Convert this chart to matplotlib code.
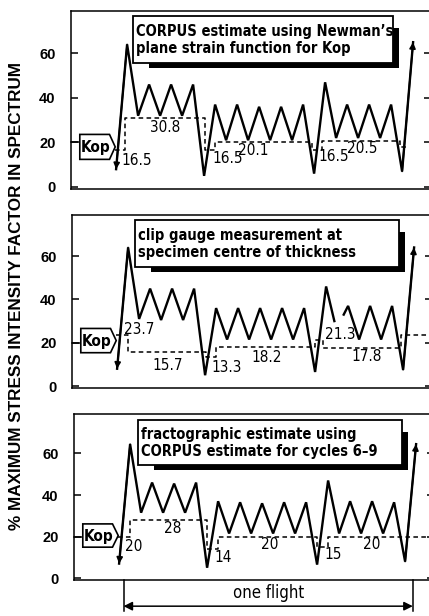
import matplotlib
matplotlib.use('Agg')
import matplotlib.pyplot as plt
import numpy as np
from matplotlib.patches import Polygon, Rectangle
from matplotlib import font_manager

# ---------------------------------------------------------------------------
# Data (x = half-cycle index within the flight, y = % of max SIF)
# ---------------------------------------------------------------------------
IDX = list(range(28))

P1_LOAD = [8, 64, 32, 46, 32, 46, 32, 46, 5, 37, 21, 37, 21, 36, 21, 36, 21, 37,
           6, 47, 22, 37, 22, 37, 22, 37, 7, 65]

# clip gauge trace is broken around the 21.3 label
P2_X = list(range(20)) + [19.75, np.nan, 20.6, 21, 22, 23, 24, 25, 26, 27]
P2_LOAD = [8, 64, 31, 45, 30.5, 45, 30.5, 45, 5, 36, 21.5, 36, 21.5, 36, 21.5, 36,
           21.5, 36, 6.5, 46, 30, np.nan, 33, 37, 21.5, 37, 21.5, 37, 7.5, 64]

P3_LOAD = [7, 64.5, 31.5, 46, 31.5, 45.5, 31.5, 46, 5, 37, 21.5, 36.5, 21.5, 36,
           21.5, 36.5, 21.5, 36.5, 6.5, 47, 21.5, 37, 21.5, 37, 21.5, 36.5, 8, 64.5]

# Kop step lines
P1_KOP_X = [-0.1, 0.85, 0.85, 8.1, 8.1, 9.0, 9.0, 17.8, 17.8, 18.7, 18.7, 25.8, 25.8, 26.6]
P1_KOP_Y = [16.5, 16.5, 30.8, 30.8, 16.5, 16.5, 20.1, 20.1, 16.5, 16.5, 20.5, 20.5, 18, 18]

P2_KOP_X = [-0.1, 1.0, 1.0, 8.1, 8.1, 9.0, 9.0, 18.0, 18.0, 18.7, 18.7, 25.8, 25.8, 28.8]
P2_KOP_Y = [23.7, 23.7, 15.7, 15.7, 13.3, 13.3, 18.2, 18.2, 21.3, 21.3, 17.8, 17.8, 23.7, 23.7]

P3_KOP_X = [-0.1, 1.0, 1.0, 8.0, 8.0, 9.0, 9.0, 18.0, 18.0, 19.0, 19.0, 28.8]
P3_KOP_Y = [20, 20, 28, 28, 14, 14, 20, 20, 15, 15, 20, 20]

P1_LABELS = ['16.5', '30.8', '16.5', '20.1', '16.5', '20.5']
P2_LABELS = ['23.7', '15.7', '13.3', '18.2', '21.3', '17.8']
P3_LABELS = ['20', '28', '14', '20', '15', '20']

TITLES = [
    'CORPUS estimate using Newman\u2019s\nplane strain function for Kop',
    'clip gauge measurement at\nspecimen centre of thickness',
    'fractographic estimate using\nCORPUS estimate for cycles 6\u20139',
]

Y_TICKS = [0, 20, 40, 60]
FLIGHT_START, FLIGHT_END = 0.4, 26.7

# ---------------------------------------------------------------------------
# Layout (pixels of the 429 x 616 output)
# ---------------------------------------------------------------------------
W, H = 429, 616
X_LIM = (-4.1, 28.65)
Y_LIM = (-0.9, 79)
PANELS = [  # left, top, bottom (px)
    (71, 11, 189),
    (72, 215, 388),
    (74, 414, 580),
]
TITLE_BOXES = [(133, 16, 393, 63), (135, 220, 399, 267), (138, 420, 402, 465)]
KOP_CENTRE = [18.0, 21.0, 20.5]
LABEL_POS = [
    [(0.45, 11.9, 'left'), (4.5, 26.7, 'center'), (8.8, 13.0, 'left'),
     (12.5, 16.3, 'center'), (18.4, 13.6, 'left'), (22.4, 17.4, 'center')],
    [(0.6, 26.3, 'left'), (4.6, 9.4, 'center'), (8.6, 8.6, 'left'),
     (13.6, 13.2, 'center'), (18.9, 24.0, 'left'), (22.7, 13.8, 'center')],
    [(0.55, 15.4, 'left'), (4.9, 23.8, 'center'), (8.7, 10.0, 'left'),
     (13.7, 16.2, 'center'), (18.7, 11.4, 'left'), (23.0, 16.2, 'center')],
]

# condensed face if the system has one, otherwise plain Liberation Sans
_fonts = font_manager.fontManager.ttflist
_names = {f.name for f in _fonts}
_cond = [f for f in _fonts if f.name == 'DejaVu Sans' and 'Condensed' in f.fname]
if 'Liberation Sans Narrow' in _names:
    NARROW = dict(family='Liberation Sans Narrow')
    TXT_SIZE = 11.5
elif _cond:
    NARROW = dict(family='DejaVu Sans', stretch='condensed')
    TXT_SIZE = 10.5
else:
    NARROW = dict(family='Liberation Sans')
    TXT_SIZE = 10.5

plt.rcParams.update({
    'font.family': ['Liberation Sans', 'DejaVu Sans'],
    'axes.linewidth': 1.1,
    'axes.edgecolor': 'black',
})


def fx(px):
    return px / W


def fy(py):
    return 1 - py / H


def title_box(fig, box, text):
    x0, y0, x1, y1 = box
    # shadow
    fig.add_artist(Rectangle((fx(x0 + 16), fy(y1 + 5)), (x1 - x0 - 10) / W, (y1 - y0 - 7) / H,
                             transform=fig.transFigure, facecolor='black', edgecolor='none',
                             zorder=5))
    fig.add_artist(Rectangle((fx(x0), fy(y1)), (x1 - x0) / W, (y1 - y0) / H,
                             transform=fig.transFigure, facecolor='white', edgecolor='black',
                             linewidth=1.3, zorder=6))
    fig.text(fx(x0 + 3), fy((y0 + y1) / 2 + 0.5), text, ha='left', va='center',
             fontsize=TXT_SIZE, fontweight='bold', linespacing=1.2, zorder=7, **NARROW)


def kop_tag(ax, yc):
    half = 5.6
    verts = [(-3.3, yc + half), (-0.6, yc + half), (-0.08, yc),
             (-0.6, yc - half), (-3.3, yc - half)]
    ax.add_patch(Polygon(verts, closed=True, facecolor='white', edgecolor='black',
                         linewidth=1.2, zorder=4, clip_on=False))
    ax.plot([X_LIM[0], -3.3], [20, 20], color='black', lw=1.1, zorder=3, clip_on=False)
    ax.text(-1.9, yc - 0.3, 'Kop', ha='center', va='center', fontsize=TXT_SIZE + 0.5,
            fontweight='bold', zorder=5, **NARROW)


def draw_panel(ax, xs, load, kop_x, kop_y, labels, label_pos, kop_centre):
    xs = np.asarray(xs, dtype=float)
    load = np.asarray(load, dtype=float)
    ax.plot(xs, load, color='black', lw=1.7, solid_joinstyle='miter', zorder=3)
    # arrowheads at the start and end of the trace
    ax.annotate('', xy=(xs[0], load[0]), xytext=(xs[1], load[1]),
                arrowprops=dict(arrowstyle='-|>', color='black', lw=1.2,
                                mutation_scale=9, shrinkA=0, shrinkB=0))
    ax.annotate('', xy=(xs[-1], load[-1]), xytext=(xs[-2], load[-2]),
                arrowprops=dict(arrowstyle='-|>', color='black', lw=1.2,
                                mutation_scale=9, shrinkA=0, shrinkB=0))
    ax.plot(kop_x, kop_y, color='black', lw=1.1, linestyle=(0, (3, 2.2)), zorder=2,
            clip_on=False)
    for text, (x, y, ha) in zip(labels, label_pos):
        ax.text(x, y, text, ha=ha, va='center', fontsize=TXT_SIZE + 0.5, zorder=4, **NARROW)
    kop_tag(ax, kop_centre)

    ax.set_xlim(*X_LIM)
    ax.set_ylim(*Y_LIM)
    ax.set_xticks([])
    ax.set_yticks(Y_TICKS)
    ax.set_yticklabels([str(t) for t in Y_TICKS], fontweight='bold', fontsize=10.5)
    ax.tick_params(axis='y', direction='in', length=5, width=1.1, pad=11,
                   right=True, left=True)


def main():
    fig = plt.figure(figsize=(W / 100, H / 100), dpi=100)
    axes = []
    for left, top, bottom in PANELS:
        width = (X_LIM[1] - X_LIM[0]) * 11
        ax = fig.add_axes([fx(left), fy(bottom), width / W, (bottom - top) / H])
        axes.append(ax)

    draw_panel(axes[0], IDX, P1_LOAD, P1_KOP_X, P1_KOP_Y, P1_LABELS, LABEL_POS[0], KOP_CENTRE[0])
    draw_panel(axes[1], P2_X, P2_LOAD, P2_KOP_X, P2_KOP_Y, P2_LABELS, LABEL_POS[1], KOP_CENTRE[1])
    draw_panel(axes[2], IDX, P3_LOAD, P3_KOP_X, P3_KOP_Y, P3_LABELS, LABEL_POS[2], KOP_CENTRE[2])

    for box, text in zip(TITLE_BOXES, TITLES):
        title_box(fig, box, text)

    # "one flight" dimension below the last panel
    ax = axes[2]
    for x in (FLIGHT_START, FLIGHT_END):
        ax.plot([x, x], [Y_LIM[0], -16], color='black', lw=1.1, clip_on=False)
    ax.annotate('', xy=(FLIGHT_START, -13.5), xytext=(FLIGHT_END, -13.5),
                arrowprops=dict(arrowstyle='<|-|>', color='black', lw=1.1,
                                mutation_scale=13, shrinkA=0, shrinkB=0),
                annotation_clip=False)
    ax.text((FLIGHT_START + FLIGHT_END) / 2, -7.2, 'one flight', ha='center', va='center',
            fontsize=TXT_SIZE + 1.5, **NARROW)

    fig.text(fx(17), fy(296), '% MAXIMUM STRESS INTENSITY FACTOR IN SPECTRUM',
             rotation=90, ha='center', va='center', fontsize=12.3, fontweight='bold')

    fig.savefig('out.png', dpi=100)
    plt.close(fig)


if __name__ == '__main__':
    main()
